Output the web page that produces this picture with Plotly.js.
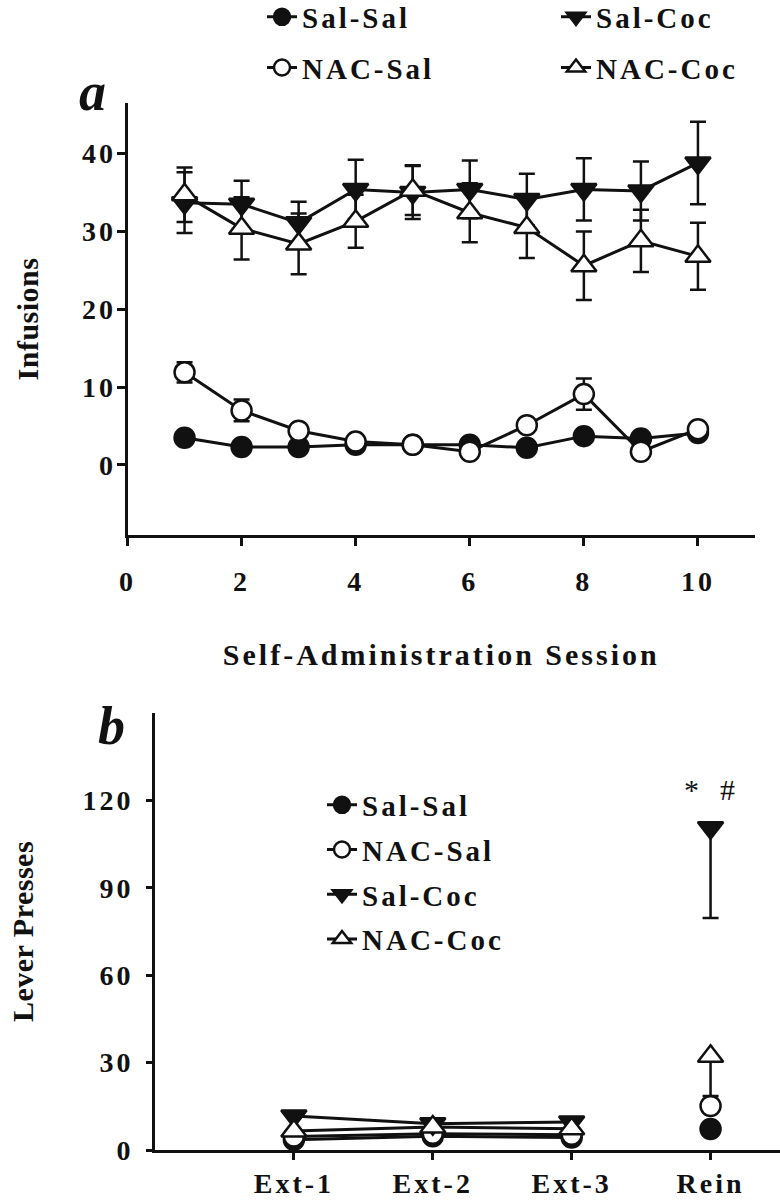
<!DOCTYPE html>
<html><head><meta charset="utf-8">
<script src="https://cdn.plot.ly/plotly-3.0.1.min.js"></script>
<style>
body{margin:0;background:#fff}
#chart{width:780px;height:1200px}
svg text{letter-spacing:3px}
svg text.ytitle,svg text.y2title{letter-spacing:0.5px}
</style></head><body><div id="chart"></div>
<script>
// ---------- Panel a: self-administration sessions ----------
const sessions = [1, 2, 3, 4, 5, 6, 7, 8, 9, 10];
const salSal    = [3.5, 2.3, 2.3, 2.6, 2.6, 2.6, 2.2, 3.7, 3.4, 4.1];
const salSalErr = [0.5, 0.4, 0.4, 0.4, 0.4, 0.5, 0.4, 0.6, 0.5, 0.6];
const nacSal    = [11.9, 7.0, 4.4, 3.0, 2.6, 1.7, 5.1, 9.1, 1.7, 4.6];
const nacSalErr = [1.3, 1.4, 0.8, 0.5, 0.4, 0.4, 0.8, 2.0, 0.4, 0.6];
const salCoc    = [33.7, 33.5, 31.1, 35.4, 35.0, 35.4, 34.1, 35.4, 35.2, 38.8];
const salCocErr = [3.9, 3.0, 2.7, 3.8, 3.4, 3.7, 3.3, 4.0, 3.8, 5.3];
const nacCoc    = [34.7, 30.4, 28.4, 31.3, 35.3, 32.4, 30.5, 25.6, 28.8, 26.8];
const nacCocErr = [3.5, 4.0, 3.9, 3.4, 3.2, 3.8, 3.9, 4.4, 4.0, 4.3];

// ---------- Panel b: extinction and reinstatement ----------
const extCats = ['Ext-1', 'Ext-2', 'Ext-3'];
const reinCat = ['Rein'];
const extSalSal = [3.5, 4.7, 4.3];
const extNacSal = [4.6, 5.6, 5.2];
const extSalCoc = [11.7, 9.0, 9.6];
const extNacCoc = [6.5, 7.9, 7.3];
const reinSalSal = [7.2];
const reinNacSal = [15.1];
const reinSalCoc = [110.6];
const reinSalCocErrMinus = [31];
const reinNacCoc = [32.2];
const reinNacCocErrMinus = [13.7];

const groupNames = ['Sal-Sal', 'NAC-Sal', 'Sal-Coc', 'NAC-Coc'];
const yTicksA = [0, 10, 20, 30, 40];
const xTicksA = [0, 2, 4, 6, 8, 10];
const yTicksB = [0, 30, 60, 90, 120];
const sigNote = '*\u2002#';

const INK = '#111111';
const FONT = 'Liberation Serif, Times New Roman, serif';

function style(name) {
  const filled = name.indexOf('Sal-') === 0;
  const tri = name.indexOf('Coc') > 0;
  return {
    symbol: tri ? (filled ? 'triangle-down' : 'triangle-up') : 'circle',
    size: tri ? 22 : 20,
    color: filled ? INK : '#ffffff',
    line: {color: INK, width: 2.5}
  };
}
function errs(arr, minus) {
  const e = {type: 'data', array: arr, color: INK, thickness: 2.5, width: 8, visible: true};
  if (minus) { e.symmetric = false; e.arrayminus = minus; }
  return e;
}

const aSeries = [[salSal, salSalErr], [nacSal, nacSalErr], [salCoc, salCocErr], [nacCoc, nacCocErr]];
const traces = [];
aSeries.forEach((s, i) => {
  traces.push({
    type: 'scatter', mode: 'lines+markers', name: groupNames[i],
    x: sessions, y: s[0], error_y: errs(s[1]),
    xaxis: 'x', yaxis: 'y',
    legend: i < 2 ? 'legend' : 'legend2',
    legendgroup: 'a' + i,
    marker: style(groupNames[i]), line: {color: INK, width: 3},
    cliponaxis: false
  });
});

const bExt = [extSalSal, extNacSal, extSalCoc, extNacCoc];
bExt.forEach((v, i) => {
  traces.push({
    type: 'scatter', mode: 'lines+markers', name: groupNames[i],
    x: extCats, y: v, xaxis: 'x2', yaxis: 'y2', legend: 'legend3',
    legendgroup: 'b' + i,
    marker: style(groupNames[i]), line: {color: INK, width: 3},
    cliponaxis: false
  });
});
const bRein = [[reinSalSal, null], [reinNacSal, null], [reinSalCoc, reinSalCocErrMinus], [reinNacCoc, reinNacCocErrMinus]];
bRein.forEach((r, i) => {
  const t = {
    type: 'scatter', mode: 'markers', name: groupNames[i], showlegend: false,
    x: reinCat, y: r[0], xaxis: 'x2', yaxis: 'y2', legend: 'legend3',
    legendgroup: 'b' + i,
    marker: style(groupNames[i]), cliponaxis: false
  };
  if (r[1]) t.error_y = errs(r[1].map(() => 0), r[1]);
  traces.push(t);
});

const tickFont = {family: FONT, size: 28, weight: 'bold', color: INK};
const axBase = {
  showline: true, linewidth: 3, linecolor: INK, ticks: 'outside', tickwidth: 3,
  tickcolor: INK, showgrid: false, zeroline: false, tickfont: tickFont,
  fixedrange: true, automargin: false
};
const legFont = {family: FONT, size: 29, weight: 'bold', color: INK};
const legBase = {font: legFont, bgcolor: 'rgba(0,0,0,0)', orientation: 'v',
  traceorder: 'grouped', tracegroupgap: 10, xanchor: 'left', yanchor: 'top'};

const layout = {
  width: 780, height: 1200,
  margin: {l: 0, r: 0, t: 0, b: 0, autoexpand: false},
  paper_bgcolor: '#ffffff', plot_bgcolor: '#ffffff',
  font: {family: FONT, color: INK},
  showlegend: true,
  xaxis: Object.assign({}, axBase, {
    domain: [127.5 / 780, 755 / 780], range: [0, 11], anchor: 'y',
    tickvals: xTicksA, ticklen: 8, ticklabelstandoff: 11,
    title: {text: 'Self-Administration Session', font: {family: FONT, size: 30, weight: 'bold', color: INK}, standoff: 49}
  }),
  yaxis: Object.assign({}, axBase, {
    domain: [1 - 535 / 1200, 1 - 103 / 1200], range: [-9, 46.5], anchor: 'x',
    tickvals: yTicksA, ticklen: 8, ticklabelstandoff: -5,
    title: {text: 'Infusions', font: {family: FONT, size: 30, weight: 'bold', color: INK}, standoff: 35}
  }),
  xaxis2: Object.assign({}, axBase, {
    domain: [155 / 780, 1], type: 'category', categoryorder: 'array',
    categoryarray: extCats.concat(reinCat), range: [-1, 3.5], anchor: 'y2',
    ticklen: 7, ticklabelstandoff: -1
  }),
  yaxis2: Object.assign({}, axBase, {
    domain: [1 - 1150 / 1200, 1 - 713 / 1200], range: [0, 150], anchor: 'x2',
    tickvals: yTicksB, ticklen: 6, ticklabelstandoff: 7,
    title: {text: 'Lever Presses', font: {family: FONT, size: 30, weight: 'bold', color: INK}, standoff: 40}
  }),
  legend: Object.assign({}, legBase, {x: 262 / 780, y: 1 + 8.5 / 1200}),
  legend2: Object.assign({}, legBase, {x: 556 / 780, y: 1 + 8.5 / 1200}),
  legend3: Object.assign({}, legBase, {x: 322 / 780, y: 1 - 779.5 / 1200, tracegroupgap: 4}),
  annotations: [
    {text: 'a', xref: 'paper', yref: 'paper', x: 94 / 780, y: 1 - 92 / 1200, showarrow: false,
     xanchor: 'center', yanchor: 'middle', font: {family: FONT, size: 54, weight: 'bold', style: 'italic', color: INK}},
    {text: 'b', xref: 'paper', yref: 'paper', x: 113 / 780, y: 1 - 726 / 1200, showarrow: false,
     xanchor: 'center', yanchor: 'middle', font: {family: FONT, size: 54, weight: 'bold', style: 'italic', color: INK}},
    {text: sigNote, xref: 'x2', yref: 'y2', x: reinCat[0], y: reinSalCoc[0], yshift: 38, showarrow: false,
     xanchor: 'center', yanchor: 'middle', font: {family: FONT, size: 30, color: INK}}
  ]
};

Plotly.newPlot('chart', traces, layout, {displayModeBar: false, staticPlot: true});
</script></body></html>
